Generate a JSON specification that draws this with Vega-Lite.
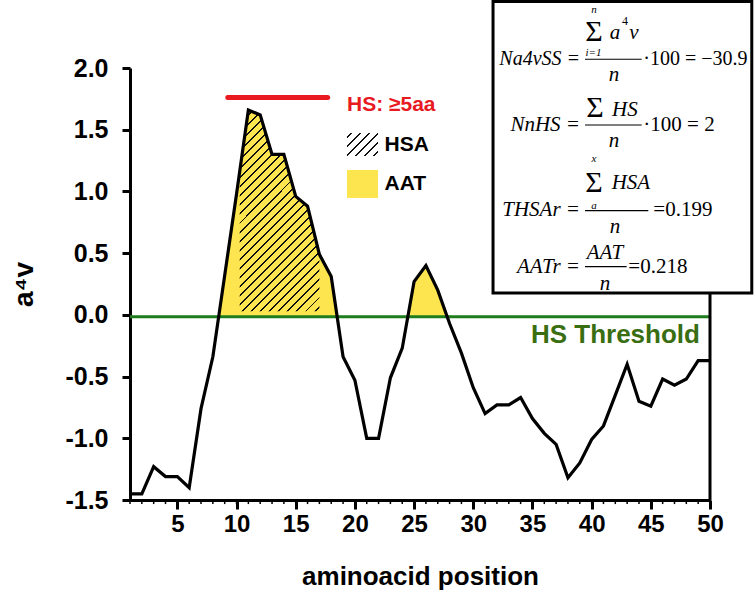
{
  "$schema": "https://vega.github.io/schema/vega-lite/v6.json",
  "width": 580,
  "height": 432,
  "autosize": {"type": "none"},
  "padding": {"left": 130, "top": 68, "right": 46, "bottom": 112},
  "background": "white",
  "data": {"values": [{}]},
  "config": {
    "view": {"stroke": null},
    "axis": {"grid": false, "domainColor": "black", "tickColor": "black", "labelColor": "black", "titleColor": "black", "labelFont": "Liberation Sans", "titleFont": "Liberation Sans", "labelFontWeight": "bold", "titleFontWeight": "bold"}
  },
  "datasets": {
    "profile": [
      {"pos": 1, "v": -1.45}, {"pos": 2, "v": -1.45}, {"pos": 3, "v": -1.23}, {"pos": 4, "v": -1.31}, {"pos": 5, "v": -1.31},
      {"pos": 6, "v": -1.40}, {"pos": 7, "v": -0.76}, {"pos": 8, "v": -0.34}, {"pos": 9, "v": 0.32}, {"pos": 10, "v": 0.98},
      {"pos": 11, "v": 1.66}, {"pos": 12, "v": 1.62}, {"pos": 13, "v": 1.30}, {"pos": 14, "v": 1.30}, {"pos": 15, "v": 0.96},
      {"pos": 16, "v": 0.88}, {"pos": 17, "v": 0.49}, {"pos": 18, "v": 0.31}, {"pos": 19, "v": -0.34}, {"pos": 20, "v": -0.53},
      {"pos": 21, "v": -1.00}, {"pos": 22, "v": -1.00}, {"pos": 23, "v": -0.51}, {"pos": 24, "v": -0.27}, {"pos": 25, "v": 0.27},
      {"pos": 26, "v": 0.40}, {"pos": 27, "v": 0.20}, {"pos": 28, "v": -0.07}, {"pos": 29, "v": -0.31}, {"pos": 30, "v": -0.59},
      {"pos": 31, "v": -0.80}, {"pos": 32, "v": -0.73}, {"pos": 33, "v": -0.73}, {"pos": 34, "v": -0.67}, {"pos": 35, "v": -0.84},
      {"pos": 36, "v": -0.96}, {"pos": 37, "v": -1.05}, {"pos": 38, "v": -1.32}, {"pos": 39, "v": -1.20}, {"pos": 40, "v": -1.01},
      {"pos": 41, "v": -0.90}, {"pos": 42, "v": -0.65}, {"pos": 43, "v": -0.40}, {"pos": 44, "v": -0.70}, {"pos": 45, "v": -0.74},
      {"pos": 46, "v": -0.52}, {"pos": 47, "v": -0.57}, {"pos": 48, "v": -0.52}, {"pos": 49, "v": -0.37}, {"pos": 50, "v": -0.37}
    ],
    "aat": [
      {"peak": "A", "pos": 8.49, "v": -0.015}, {"peak": "A", "pos": 9, "v": 0.32}, {"peak": "A", "pos": 10, "v": 0.98},
      {"peak": "A", "pos": 11, "v": 1.66}, {"peak": "A", "pos": 12, "v": 1.62}, {"peak": "A", "pos": 13, "v": 1.30},
      {"peak": "A", "pos": 14, "v": 1.30}, {"peak": "A", "pos": 15, "v": 0.96}, {"peak": "A", "pos": 16, "v": 0.88},
      {"peak": "A", "pos": 17, "v": 0.49}, {"peak": "A", "pos": 18, "v": 0.31}, {"peak": "A", "pos": 18.5, "v": -0.015},
      {"peak": "B", "pos": 24.47, "v": -0.015}, {"peak": "B", "pos": 25, "v": 0.27}, {"peak": "B", "pos": 26, "v": 0.40},
      {"peak": "B", "pos": 27, "v": 0.20}, {"peak": "B", "pos": 27.8, "v": -0.015}
    ],
    "hsa": [
      {"pos": 10.27, "v": 1.17}, {"pos": 11, "v": 1.66}, {"pos": 12, "v": 1.62}, {"pos": 13, "v": 1.30},
      {"pos": 14, "v": 1.30}, {"pos": 15, "v": 0.96}, {"pos": 16, "v": 0.88}, {"pos": 17, "v": 0.49}
    ]
  },
  "layer": [
    {
      "data": {"name": "aat"},
      "mark": {"type": "area", "color": "#fde550", "opacity": 1},
      "encoding": {
        "x": {"field": "pos", "type": "quantitative"},
        "y": {"field": "v", "type": "quantitative"},
        "y2": {"datum": -0.015},
        "detail": {"field": "peak"}
      }
    },
    {
      "data": {"name": "hsa"},
      "mark": {"type": "area", "opacity": 1, "fill": {"gradient": "linear", "x1": 0, "y1": 0, "x2": 0.4785, "y2": 1.207, "stops": [
        {"offset": 0, "color": "#fde550"},
        {"offset": 0.0126, "color": "#fde550"}, {"offset": 0.0126, "color": "#111"}, {"offset": 0.0196, "color": "#111"}, {"offset": 0.0196, "color": "#fde550"},
        {"offset": 0.0449, "color": "#fde550"}, {"offset": 0.0449, "color": "#111"}, {"offset": 0.0519, "color": "#111"}, {"offset": 0.0519, "color": "#fde550"},
        {"offset": 0.0771, "color": "#fde550"}, {"offset": 0.0771, "color": "#111"}, {"offset": 0.0841, "color": "#111"}, {"offset": 0.0841, "color": "#fde550"},
        {"offset": 0.1094, "color": "#fde550"}, {"offset": 0.1094, "color": "#111"}, {"offset": 0.1164, "color": "#111"}, {"offset": 0.1164, "color": "#fde550"},
        {"offset": 0.1417, "color": "#fde550"}, {"offset": 0.1417, "color": "#111"}, {"offset": 0.1487, "color": "#111"}, {"offset": 0.1487, "color": "#fde550"},
        {"offset": 0.1739, "color": "#fde550"}, {"offset": 0.1739, "color": "#111"}, {"offset": 0.1809, "color": "#111"}, {"offset": 0.1809, "color": "#fde550"},
        {"offset": 0.2062, "color": "#fde550"}, {"offset": 0.2062, "color": "#111"}, {"offset": 0.2132, "color": "#111"}, {"offset": 0.2132, "color": "#fde550"},
        {"offset": 0.2384, "color": "#fde550"}, {"offset": 0.2384, "color": "#111"}, {"offset": 0.2454, "color": "#111"}, {"offset": 0.2454, "color": "#fde550"},
        {"offset": 0.2707, "color": "#fde550"}, {"offset": 0.2707, "color": "#111"}, {"offset": 0.2777, "color": "#111"}, {"offset": 0.2777, "color": "#fde550"},
        {"offset": 0.3030, "color": "#fde550"}, {"offset": 0.3030, "color": "#111"}, {"offset": 0.3100, "color": "#111"}, {"offset": 0.3100, "color": "#fde550"},
        {"offset": 0.3352, "color": "#fde550"}, {"offset": 0.3352, "color": "#111"}, {"offset": 0.3422, "color": "#111"}, {"offset": 0.3422, "color": "#fde550"},
        {"offset": 0.3675, "color": "#fde550"}, {"offset": 0.3675, "color": "#111"}, {"offset": 0.3745, "color": "#111"}, {"offset": 0.3745, "color": "#fde550"},
        {"offset": 0.3997, "color": "#fde550"}, {"offset": 0.3997, "color": "#111"}, {"offset": 0.4067, "color": "#111"}, {"offset": 0.4067, "color": "#fde550"},
        {"offset": 0.4320, "color": "#fde550"}, {"offset": 0.4320, "color": "#111"}, {"offset": 0.4390, "color": "#111"}, {"offset": 0.4390, "color": "#fde550"},
        {"offset": 0.4642, "color": "#fde550"}, {"offset": 0.4642, "color": "#111"}, {"offset": 0.4712, "color": "#111"}, {"offset": 0.4712, "color": "#fde550"},
        {"offset": 0.4965, "color": "#fde550"}, {"offset": 0.4965, "color": "#111"}, {"offset": 0.5035, "color": "#111"}, {"offset": 0.5035, "color": "#fde550"},
        {"offset": 0.5288, "color": "#fde550"}, {"offset": 0.5288, "color": "#111"}, {"offset": 0.5358, "color": "#111"}, {"offset": 0.5358, "color": "#fde550"},
        {"offset": 0.5610, "color": "#fde550"}, {"offset": 0.5610, "color": "#111"}, {"offset": 0.5680, "color": "#111"}, {"offset": 0.5680, "color": "#fde550"},
        {"offset": 0.5933, "color": "#fde550"}, {"offset": 0.5933, "color": "#111"}, {"offset": 0.6003, "color": "#111"}, {"offset": 0.6003, "color": "#fde550"},
        {"offset": 0.6255, "color": "#fde550"}, {"offset": 0.6255, "color": "#111"}, {"offset": 0.6325, "color": "#111"}, {"offset": 0.6325, "color": "#fde550"},
        {"offset": 0.6578, "color": "#fde550"}, {"offset": 0.6578, "color": "#111"}, {"offset": 0.6648, "color": "#111"}, {"offset": 0.6648, "color": "#fde550"},
        {"offset": 0.6900, "color": "#fde550"}, {"offset": 0.6900, "color": "#111"}, {"offset": 0.6970, "color": "#111"}, {"offset": 0.6970, "color": "#fde550"},
        {"offset": 0.7223, "color": "#fde550"}, {"offset": 0.7223, "color": "#111"}, {"offset": 0.7293, "color": "#111"}, {"offset": 0.7293, "color": "#fde550"},
        {"offset": 0.7546, "color": "#fde550"}, {"offset": 0.7546, "color": "#111"}, {"offset": 0.7616, "color": "#111"}, {"offset": 0.7616, "color": "#fde550"},
        {"offset": 0.7868, "color": "#fde550"}, {"offset": 0.7868, "color": "#111"}, {"offset": 0.7938, "color": "#111"}, {"offset": 0.7938, "color": "#fde550"},
        {"offset": 0.8191, "color": "#fde550"}, {"offset": 0.8191, "color": "#111"}, {"offset": 0.8261, "color": "#111"}, {"offset": 0.8261, "color": "#fde550"},
        {"offset": 0.8513, "color": "#fde550"}, {"offset": 0.8513, "color": "#111"}, {"offset": 0.8583, "color": "#111"}, {"offset": 0.8583, "color": "#fde550"},
        {"offset": 0.8836, "color": "#fde550"}, {"offset": 0.8836, "color": "#111"}, {"offset": 0.8906, "color": "#111"}, {"offset": 0.8906, "color": "#fde550"},
        {"offset": 0.9158, "color": "#fde550"}, {"offset": 0.9158, "color": "#111"}, {"offset": 0.9228, "color": "#111"}, {"offset": 0.9228, "color": "#fde550"},
        {"offset": 0.9481, "color": "#fde550"}, {"offset": 0.9481, "color": "#111"}, {"offset": 0.9551, "color": "#111"}, {"offset": 0.9551, "color": "#fde550"},
        {"offset": 0.9804, "color": "#fde550"}, {"offset": 0.9804, "color": "#111"}, {"offset": 0.9874, "color": "#111"}, {"offset": 0.9874, "color": "#fde550"},
        {"offset": 1, "color": "#fde550"}
      ]}},
      "encoding": {
        "x": {"field": "pos", "type": "quantitative"},
        "y": {"field": "v", "type": "quantitative"},
        "y2": {"datum": 0.03}
      }
    },
    {
      "mark": {"type": "rule", "color": "#1d7d1d", "strokeWidth": 3},
      "encoding": {"y": {"datum": -0.015}}
    },
    {
      "data": {"name": "profile"},
      "mark": {"type": "rule", "color": "black", "strokeWidth": 1.5},
      "encoding": {
        "x": {"field": "pos", "type": "quantitative"},
        "y": {"datum": -1.5},
        "y2": {"datum": -1.533}
      }
    },
    {
      "data": {"name": "profile"},
      "mark": {"type": "line", "color": "black", "strokeWidth": 3.2, "strokeJoin": "miter"},
      "encoding": {
        "x": {"field": "pos", "type": "quantitative", "scale": {"domain": [1, 50], "nice": false, "zero": false},
          "axis": {"values": [5, 10, 15, 20, 25, 30, 35, 40, 45, 50],
            "tickSize": 9, "tickWidth": 3,
            "labelOverlap": false, "labelFlush": false,
            "domainWidth": 3, "labelFontSize": 24, "labelPadding": 3,
            "title": "aminoacid position", "titleFontSize": 26, "titlePadding": 27}},
        "y": {"field": "v", "type": "quantitative", "scale": {"domain": [-1.5, 2.0], "nice": false, "zero": false},
          "axis": {"values": [-1.5, -1, -0.5, 0, 0.5, 1, 1.5, 2], "format": ".1f",
            "labelExpr": "replace(datum.label, '−', '-')",
            "tickSize": 8, "tickWidth": 3, "domainWidth": 3, "labelFontSize": 25, "labelPadding": 14,
            "title": "a⁴v", "titleFontSize": 28, "titlePadding": 26}}
      }
    },
    {
      "mark": {"type": "rule", "color": "black", "strokeWidth": 3},
      "encoding": {"x": {"datum": 50}}
    },
    {
      "mark": {"type": "rule", "color": "#e8191f", "strokeWidth": 5, "strokeCap": "round"},
      "encoding": {"x": {"datum": 9.26}, "x2": {"datum": 17.7}, "y": {"datum": 1.76}}
    },
    {
      "mark": {"type": "text", "font": "Liberation Sans", "fontWeight": "bold", "fontSize": 21, "color": "#e8191f", "align": "left", "baseline": "middle"},
      "encoding": {"x": {"datum": 19.33}, "y": {"datum": 1.70}, "text": {"value": "HS: ≥5aa"}}
    },
    {
      "mark": {"type": "rect", "fill": {"gradient": "linear", "x1": 0, "y1": 0, "x2": 1.123, "y2": 0.833, "stops": [
        {"offset": 0, "color": "white"},
        {"offset": 0.058, "color": "white"}, {"offset": 0.058, "color": "#111"}, {"offset": 0.108, "color": "#111"}, {"offset": 0.108, "color": "white"},
        {"offset": 0.225, "color": "white"}, {"offset": 0.225, "color": "#111"}, {"offset": 0.275, "color": "#111"}, {"offset": 0.275, "color": "white"},
        {"offset": 0.392, "color": "white"}, {"offset": 0.392, "color": "#111"}, {"offset": 0.442, "color": "#111"}, {"offset": 0.442, "color": "white"},
        {"offset": 0.558, "color": "white"}, {"offset": 0.558, "color": "#111"}, {"offset": 0.608, "color": "#111"}, {"offset": 0.608, "color": "white"},
        {"offset": 0.725, "color": "white"}, {"offset": 0.725, "color": "#111"}, {"offset": 0.775, "color": "#111"}, {"offset": 0.775, "color": "white"},
        {"offset": 0.892, "color": "white"}, {"offset": 0.892, "color": "#111"}, {"offset": 0.942, "color": "#111"}, {"offset": 0.942, "color": "white"},
        {"offset": 1, "color": "white"}
      ]}},
      "encoding": {"x": {"datum": 19.33}, "x2": {"datum": 21.95}, "y": {"datum": 1.473}, "y2": {"datum": 1.287}}
    },
    {
      "mark": {"type": "text", "font": "Liberation Sans", "fontWeight": "bold", "fontSize": 21, "color": "black", "align": "left", "baseline": "middle"},
      "encoding": {"x": {"datum": 22.5}, "y": {"datum": 1.376}, "text": {"value": "HSA"}}
    },
    {
      "mark": {"type": "rect", "fill": "#fde550"},
      "encoding": {"x": {"datum": 19.33}, "x2": {"datum": 21.95}, "y": {"datum": 1.174}, "y2": {"datum": 0.947}}
    },
    {
      "mark": {"type": "text", "font": "Liberation Sans", "fontWeight": "bold", "fontSize": 21, "color": "black", "align": "left", "baseline": "middle"},
      "encoding": {"x": {"datum": 22.5}, "y": {"datum": 1.06}, "text": {"value": "AAT"}}
    },
    {
      "mark": {"type": "text", "font": "Liberation Sans", "fontWeight": "bold", "fontSize": 26, "color": "#3a6e12", "align": "right", "baseline": "middle"},
      "encoding": {"x": {"datum": 49.15}, "y": {"datum": -0.163}, "text": {"value": "HS Threshold"}}
    },
    {
      "mark": {"type": "rect", "fill": "white", "stroke": "black", "strokeWidth": 3},
      "encoding": {"x": {"datum": 31.67}, "x2": {"datum": 53.53}, "y": {"datum": 2.539}, "y2": {"datum": 0.177}}
    },
    {"mark": {"type": "text", "font": "Liberation Serif", "fontStyle": "italic", "fontSize": 20, "align": "right", "baseline": "middle", "color": "black"},
     "encoding": {"x": {"datum": 39.02}, "y": {"datum": 2.073}, "text": {"value": "Na4vSS ="}}},
    {"mark": {"type": "text", "font": "Liberation Serif", "fontSize": 30, "align": "center", "baseline": "middle", "color": "black"},
     "encoding": {"x": {"datum": 40.2}, "y": {"datum": 2.29}, "text": {"value": "Σ"}}},
    {"mark": {"type": "text", "font": "Liberation Serif", "fontStyle": "italic", "fontSize": 11, "align": "center", "baseline": "middle", "color": "black"},
     "encoding": {"x": {"datum": 40.2}, "y": {"datum": 2.47}, "text": {"value": "n"}}},
    {"mark": {"type": "text", "font": "Liberation Serif", "fontStyle": "italic", "fontSize": 11, "align": "center", "baseline": "middle", "color": "black"},
     "encoding": {"x": {"datum": 40.15}, "y": {"datum": 2.118}, "text": {"value": "i=1"}}},
    {"mark": {"type": "text", "font": "Liberation Serif", "fontStyle": "italic", "fontSize": 21, "align": "center", "baseline": "middle", "color": "black"},
     "encoding": {"x": {"datum": 41.97}, "y": {"datum": 2.284}, "text": {"value": "a"}}},
    {"mark": {"type": "text", "font": "Liberation Serif", "fontSize": 12, "align": "center", "baseline": "middle", "color": "black"},
     "encoding": {"x": {"datum": 42.82}, "y": {"datum": 2.38}, "text": {"value": "4"}}},
    {"mark": {"type": "text", "font": "Liberation Serif", "fontStyle": "italic", "fontSize": 21, "align": "center", "baseline": "middle", "color": "black"},
     "encoding": {"x": {"datum": 43.58}, "y": {"datum": 2.284}, "text": {"value": "v"}}},
    {"mark": {"type": "rule", "color": "black", "strokeWidth": 1.2},
     "encoding": {"x": {"datum": 39.44}, "x2": {"datum": 44.23}, "y": {"datum": 2.0707}}},
    {"mark": {"type": "text", "font": "Liberation Serif", "fontStyle": "italic", "fontSize": 21, "align": "center", "baseline": "middle", "color": "black"},
     "encoding": {"x": {"datum": 41.89}, "y": {"datum": 1.94}, "text": {"value": "n"}}},
    {"mark": {"type": "text", "font": "Liberation Serif", "fontSize": 20, "align": "left", "baseline": "middle", "color": "black"},
     "encoding": {"x": {"datum": 44.37}, "y": {"datum": 2.073}, "text": {"value": "·100 = −30.9"}}},

    {"mark": {"type": "text", "font": "Liberation Serif", "fontStyle": "italic", "fontSize": 21, "align": "right", "baseline": "middle", "color": "black"},
     "encoding": {"x": {"datum": 39.02}, "y": {"datum": 1.538}, "text": {"value": "NnHS ="}}},
    {"mark": {"type": "text", "font": "Liberation Serif", "fontSize": 30, "align": "center", "baseline": "middle", "color": "black"},
     "encoding": {"x": {"datum": 40.28}, "y": {"datum": 1.672}, "text": {"value": "Σ"}}},
    {"mark": {"type": "text", "font": "Liberation Serif", "fontStyle": "italic", "fontSize": 21, "align": "left", "baseline": "middle", "color": "black"},
     "encoding": {"x": {"datum": 41.72}, "y": {"datum": 1.66}, "text": {"value": "HS"}}},
    {"mark": {"type": "rule", "color": "black", "strokeWidth": 1.2},
     "encoding": {"x": {"datum": 39.44}, "x2": {"datum": 44.23}, "y": {"datum": 1.538}}},
    {"mark": {"type": "text", "font": "Liberation Serif", "fontStyle": "italic", "fontSize": 21, "align": "center", "baseline": "middle", "color": "black"},
     "encoding": {"x": {"datum": 41.89}, "y": {"datum": 1.41}, "text": {"value": "n"}}},
    {"mark": {"type": "text", "font": "Liberation Serif", "fontSize": 21, "align": "left", "baseline": "middle", "color": "black"},
     "encoding": {"x": {"datum": 44.37}, "y": {"datum": 1.538}, "text": {"value": "·100 = 2"}}},

    {"mark": {"type": "text", "font": "Liberation Serif", "fontStyle": "italic", "fontSize": 21, "align": "right", "baseline": "middle", "color": "black"},
     "encoding": {"x": {"datum": 39.02}, "y": {"datum": 0.85}, "text": {"value": "THSAr ="}}},
    {"mark": {"type": "text", "font": "Liberation Serif", "fontSize": 30, "align": "center", "baseline": "middle", "color": "black"},
     "encoding": {"x": {"datum": 40.2}, "y": {"datum": 1.068}, "text": {"value": "Σ"}}},
    {"mark": {"type": "text", "font": "Liberation Serif", "fontStyle": "italic", "fontSize": 11, "align": "center", "baseline": "middle", "color": "black"},
     "encoding": {"x": {"datum": 40.2}, "y": {"datum": 1.265}, "text": {"value": "x"}}},
    {"mark": {"type": "text", "font": "Liberation Serif", "fontStyle": "italic", "fontSize": 11, "align": "center", "baseline": "middle", "color": "black"},
     "encoding": {"x": {"datum": 40.2}, "y": {"datum": 0.884}, "text": {"value": "a"}}},
    {"mark": {"type": "text", "font": "Liberation Serif", "fontStyle": "italic", "fontSize": 21, "align": "left", "baseline": "middle", "color": "black"},
     "encoding": {"x": {"datum": 41.69}, "y": {"datum": 1.068}, "text": {"value": "HSA"}}},
    {"mark": {"type": "rule", "color": "black", "strokeWidth": 1.2},
     "encoding": {"x": {"datum": 39.44}, "x2": {"datum": 44.79}, "y": {"datum": 0.844}}},
    {"mark": {"type": "text", "font": "Liberation Serif", "fontStyle": "italic", "fontSize": 21, "align": "center", "baseline": "middle", "color": "black"},
     "encoding": {"x": {"datum": 41.97}, "y": {"datum": 0.71}, "text": {"value": "n"}}},
    {"mark": {"type": "text", "font": "Liberation Serif", "fontSize": 21, "align": "left", "baseline": "middle", "color": "black"},
     "encoding": {"x": {"datum": 45.21}, "y": {"datum": 0.85}, "text": {"value": "=0.199"}}},

    {"mark": {"type": "text", "font": "Liberation Serif", "fontStyle": "italic", "fontSize": 21, "align": "right", "baseline": "middle", "color": "black"},
     "encoding": {"x": {"datum": 39.02}, "y": {"datum": 0.39}, "text": {"value": "AATr ="}}},
    {"mark": {"type": "text", "font": "Liberation Serif", "fontStyle": "italic", "fontSize": 21, "align": "left", "baseline": "middle", "color": "black"},
     "encoding": {"x": {"datum": 39.58}, "y": {"datum": 0.505}, "text": {"value": "AAT"}}},
    {"mark": {"type": "rule", "color": "black", "strokeWidth": 1.2},
     "encoding": {"x": {"datum": 39.44}, "x2": {"datum": 42.96}, "y": {"datum": 0.39}}},
    {"mark": {"type": "text", "font": "Liberation Serif", "fontStyle": "italic", "fontSize": 21, "align": "center", "baseline": "middle", "color": "black"},
     "encoding": {"x": {"datum": 41.13}, "y": {"datum": 0.25}, "text": {"value": "n"}}},
    {"mark": {"type": "text", "font": "Liberation Serif", "fontSize": 21, "align": "left", "baseline": "middle", "color": "black"},
     "encoding": {"x": {"datum": 43.1}, "y": {"datum": 0.39}, "text": {"value": "=0.218"}}}
  ]
}
